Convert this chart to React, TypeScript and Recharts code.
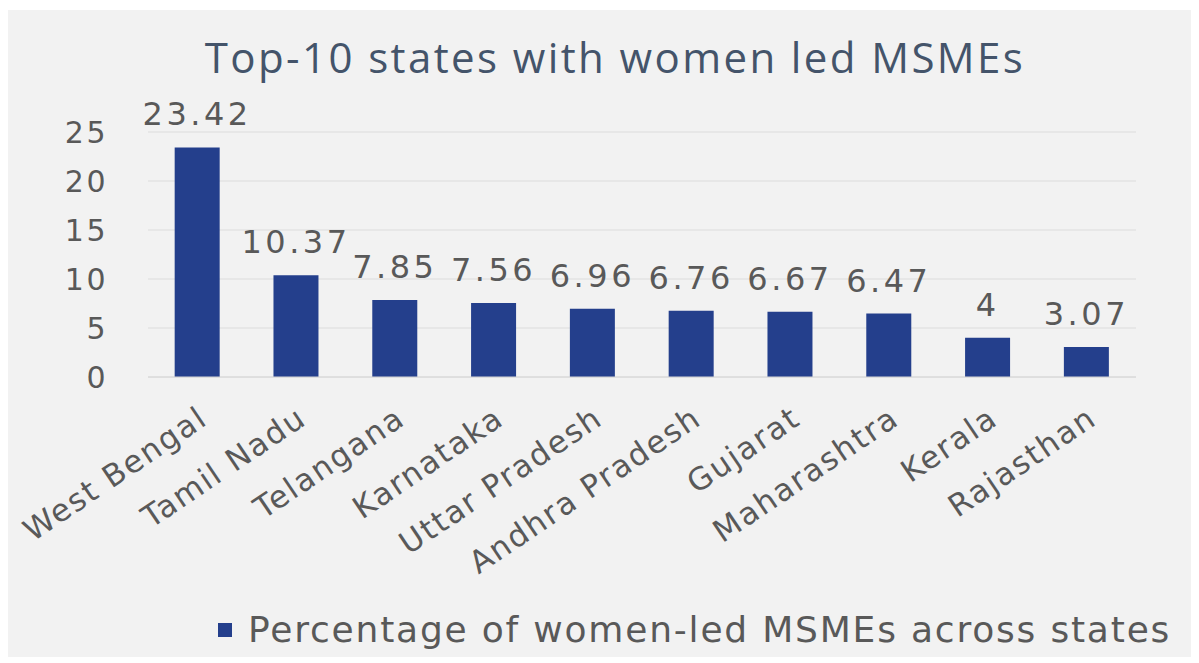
import { BarChart, Bar, XAxis, YAxis, CartesianGrid, LabelList, Legend } from "recharts";

const states = [
  "West Bengal",
  "Tamil Nadu",
  "Telangana",
  "Karnataka",
  "Uttar Pradesh",
  "Andhra Pradesh",
  "Gujarat",
  "Maharashtra",
  "Kerala",
  "Rajasthan",
];
const shares = [23.42, 10.37, 7.85, 7.56, 6.96, 6.76, 6.67, 6.47, 4, 3.07];
const yTicks = [0, 5, 10, 15, 20, 25];

const seriesName = "Percentage of women-led MSMEs across states";
const BAR_COLOR = "#243f8c";
const TEXT_GRAY = "#595959";
const FONT = "'DejaVu Sans', Verdana, sans-serif";

const chartData = states.map((state, i) => ({ state, share: shares[i] }));

const StateTick = (props: any) => {
  const { x, y, payload } = props;
  return (
    <g transform={`translate(${x + 12},${y + 38})`}>
      <text
        transform="rotate(-34)"
        textAnchor="end"
        fill={TEXT_GRAY}
        fontSize={31}
        fontFamily={FONT}
        letterSpacing={1.8}
      >
        {payload.value}
      </text>
    </g>
  );
};

const renderLegend = () => (
  <div
    style={{
      display: "flex",
      alignItems: "center",
      marginLeft: 210,
      fontFamily: FONT,
      fontSize: 36,
      color: TEXT_GRAY,
      letterSpacing: 1.8,
      whiteSpace: "nowrap",
    }}
  >
    <span
      style={{
        display: "inline-block",
        flexShrink: 0,
        width: 14,
        height: 14,
        background: BAR_COLOR,
        marginRight: 16,
      }}
    />
    <span style={{ flexShrink: 0 }}>{seriesName}</span>
  </div>
);

export default function App() {
  return (
    <div
      style={{
        position: "relative",
        width: 1183,
        height: 647,
        background: "#f2f2f2",
        marginTop: 2,
      }}
    >
      <div
        style={{
          position: "absolute",
          top: 18,
          left: 0,
          width: 1214,
          textAlign: "center",
          fontFamily: "'Open Sans', sans-serif",
          fontSize: 42,
          letterSpacing: 2.4,
          color: "#44546a",
          zIndex: 1,
        }}
      >
        Top-10 states with women led MSMEs
      </div>
      <BarChart
        width={1183}
        height={647}
        data={chartData}
        margin={{ top: 122, right: 55, bottom: 8, left: 0 }}
        barCategoryGap="27%"
      >
        <CartesianGrid vertical={false} stroke="#dcdcdc" />
        <XAxis
          dataKey="state"
          interval={0}
          height={232}
          tick={<StateTick />}
          tickLine={false}
          axisLine={{ stroke: "#d6d6d6" }}
        />
        <YAxis
          domain={[0, 25]}
          ticks={yTicks}
          width={140}
          axisLine={false}
          tickLine={false}
          tickMargin={34}
          tick={{ fill: TEXT_GRAY, fontSize: 30, fontFamily: FONT, letterSpacing: 2.5 }}
        />
        <Legend verticalAlign="bottom" height={40} content={renderLegend} />
        <Bar dataKey="share" name={seriesName} fill={BAR_COLOR} isAnimationActive={false}>
          <LabelList
            dataKey="share"
            position="top"
            offset={22}
            fill={TEXT_GRAY}
            fontSize={32}
            fontFamily={FONT}
            style={{ letterSpacing: 3.5 }}
          />
        </Bar>
      </BarChart>
    </div>
  );
}
